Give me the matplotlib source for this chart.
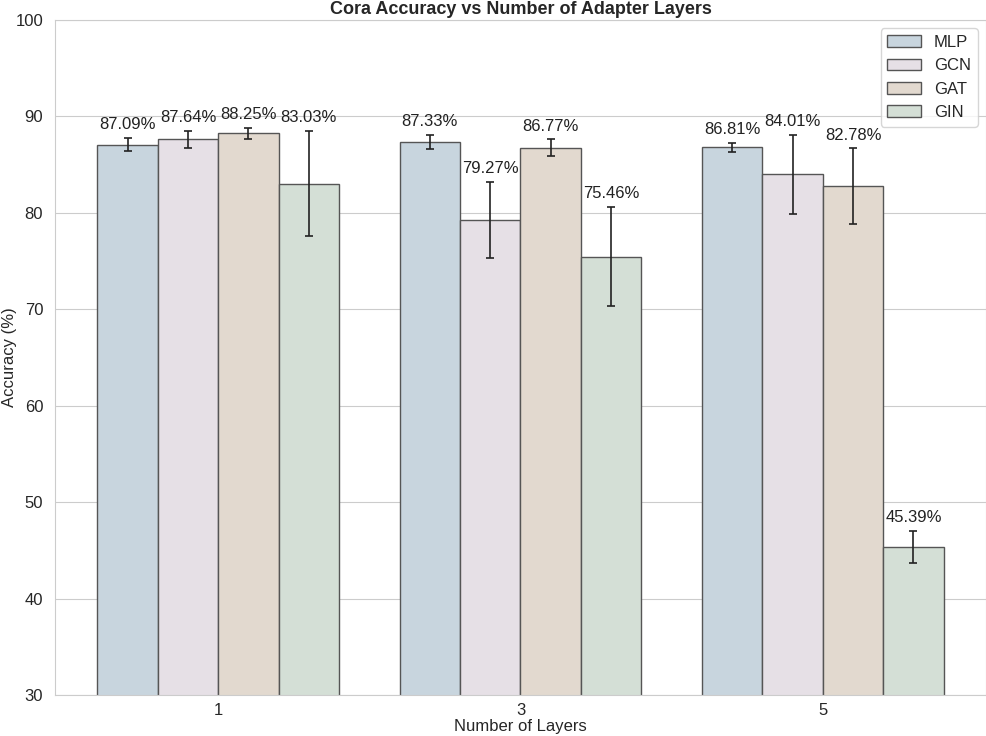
import numpy as np
import matplotlib
matplotlib.use('Agg')
import matplotlib.pyplot as plt
import seaborn as sns

layers = ['1', '3', '5']
models = ['MLP', 'GCN', 'GAT', 'GIN']
acc = {
    'MLP': [87.09, 87.33, 86.81],
    'GCN': [87.64, 79.27, 84.01],
    'GAT': [88.25, 86.77, 82.78],
    'GIN': [83.03, 75.46, 45.39],
}
std = {
    'MLP': [0.70, 0.75, 0.45],
    'GCN': [0.87, 3.95, 4.10],
    'GAT': [0.55, 0.85, 3.90],
    'GIN': [5.45, 5.15, 1.65],
}
colors = ['#c8d5de', '#e6e0e6', '#e2d9cf', '#d4dfd6']

sns.set_style('whitegrid')
plt.rcParams['font.family'] = ['Liberation Sans', 'DejaVu Sans']

fig, ax = plt.subplots(figsize=(9.87, 7.36), dpi=100)
fig.subplots_adjust(left=0.0557, right=0.999, top=0.9728, bottom=0.0557)

x = np.arange(len(layers))
w = 0.2
for i, m in enumerate(models):
    pos = x + (i - 1.5) * w
    ax.bar(pos, acc[m], w, yerr=std[m], color=colors[i], edgecolor='#555555',
           linewidth=1, capsize=3, error_kw=dict(ecolor='#222222', elinewidth=1.2, capthick=1.2),
           label=m)
    for p, v, e in zip(pos, acc[m], std[m]):
        ax.text(p, v + e + 0.6, f'{v:.2f}%', ha='center', va='bottom', fontsize=12, color='#222222')

ax.set_ylim(30, 100)
ax.set_xticks(x)
ax.set_xticklabels(layers)
ax.tick_params(labelsize=12)
ax.tick_params(axis='y', pad=5)
ax.tick_params(axis='x', pad=2)
ax.grid(axis='x', visible=False)
ax.set_xlabel('Number of Layers', fontsize=12, labelpad=1)
ax.set_ylabel('Accuracy (%)', fontsize=12)
ax.yaxis.set_label_coords(-0.041, 0.5)
ax.set_title('Cora Accuracy vs Number of Adapter Layers', fontsize=13, fontweight='bold', pad=4)
ax.legend(loc='upper right', fontsize=12, frameon=True)

plt.savefig('out.png', dpi=100)
